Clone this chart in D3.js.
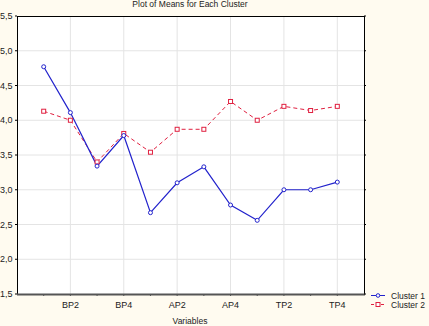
<!DOCTYPE html>
<html><head><meta charset="utf-8">
<script src="https://cdn.jsdelivr.net/npm/d3@7"></script>
<style>body{margin:0;background:#fffbf0;}svg{display:block;}</style>
</head><body>
<svg id="c" width="429" height="326"></svg>
<script>
const categories = ["BP1","BP2","BP3","BP4","AP1","AP2","AP3","AP4","TP1","TP2","TP3","TP4"];
const cluster1 = [4.77,4.11,3.34,3.78,2.67,3.10,3.33,2.78,2.56,3.00,3.00,3.11];
const cluster2 = [4.13,4.00,3.40,3.81,3.54,3.87,3.87,4.27,4.00,4.20,4.14,4.20];
const yTicks = [1.5,2.0,2.5,3.0,3.5,4.0,4.5,5.0,5.5];
const labeledCats = ["BP2","BP4","AP2","AP4","TP2","TP4"];
const seriesNames = ["Cluster 1","Cluster 2"];

const svg = d3.select("#c");
const L=17, T=16, R=364, B=294;
const x = d3.scalePoint().domain(categories).range([L,R]).padding(1);
const y = d3.scaleLinear().domain([1.5,5.5]).range([B,T]);
const fmt = d => d.toFixed(1).replace(".",",");
const font = "Arial, 'Liberation Sans', sans-serif";

svg.append("rect").attr("x",L).attr("y",T).attr("width",R-L).attr("height",B-T).attr("fill","#fff");

// grid
svg.append("g").selectAll("line").data(yTicks.slice(1,-1)).join("line")
  .attr("x1",L).attr("x2",R).attr("y1",d=>y(d)).attr("y2",d=>y(d))
  .attr("stroke","#e4e4e4").attr("stroke-width",1);
svg.append("g").selectAll("line").data(labeledCats).join("line")
  .attr("x1",d=>x(d)).attr("x2",d=>x(d)).attr("y1",T).attr("y2",B)
  .attr("stroke","#e4e4e4").attr("stroke-width",1);

// axes frame
svg.append("line").attr("x1",L).attr("x2",R).attr("y1",T+0.5).attr("y2",T+0.5).attr("stroke","#000");
svg.append("line").attr("x1",R+0.5).attr("x2",R+0.5).attr("y1",T).attr("y2",B).attr("stroke","#000");
svg.append("line").attr("x1",L+0.5).attr("x2",L+0.5).attr("y1",T).attr("y2",B).attr("stroke","#000");
svg.append("line").attr("x1",L).attr("x2",R+1).attr("y1",B+0.5).attr("y2",B+0.5).attr("stroke","#555").attr("stroke-width",2);

// ticks
svg.append("g").selectAll("line").data(categories).join("line")
  .attr("x1",d=>x(d)).attr("x2",d=>x(d)).attr("y1",B).attr("y2",B+2).attr("stroke","#555");
svg.append("g").selectAll("line").data(yTicks).join("line")
  .attr("x1",R).attr("x2",R+2).attr("y1",d=>y(d)).attr("y2",d=>y(d)).attr("stroke","#000");
svg.append("g").selectAll("line").data(yTicks).join("line")
  .attr("x1",L-2).attr("x2",L).attr("y1",d=>y(d)).attr("y2",d=>y(d)).attr("stroke","#000");

// y labels
svg.append("g").selectAll("text").data(yTicks).join("text")
  .attr("x",0).attr("y",d=>y(d)+3).attr("font-family",font).attr("font-size",9)
  .attr("fill","#222").text(fmt);
// x labels
svg.append("g").selectAll("text").data(labeledCats).join("text")
  .attr("x",d=>x(d)).attr("y",B+14).attr("text-anchor","middle").attr("font-family",font)
  .attr("font-size",9).attr("fill","#222").text(d=>d);

svg.append("text").attr("x",190).attr("y",7).attr("text-anchor","middle").attr("font-family",font)
  .attr("font-size",8.5).attr("fill","#222").text("Plot of Means for Each Cluster");
svg.append("text").attr("x",190).attr("y",324).attr("text-anchor","middle").attr("font-family",font)
  .attr("font-size",8.5).attr("fill","#222").text("Variables");

const line = d3.line().x((d,i)=>x(categories[i])).y(d=>y(d));
const c1 = "#2222cc", c2 = "#e02040";
svg.append("path").datum(cluster2).attr("d",line).attr("fill","none").attr("stroke",c2)
  .attr("stroke-width",1).attr("stroke-dasharray","4,3");
svg.append("path").datum(cluster1).attr("d",line).attr("fill","none").attr("stroke",c1).attr("stroke-width",1.2);
svg.append("g").selectAll("rect").data(cluster2).join("rect")
  .attr("x",(d,i)=>x(categories[i])-2).attr("y",d=>y(d)-2).attr("width",4).attr("height",4)
  .attr("fill","#fff").attr("stroke",c2).attr("stroke-width",1);
svg.append("g").selectAll("circle").data(cluster1).join("circle")
  .attr("cx",(d,i)=>x(categories[i])).attr("cy",d=>y(d)).attr("r",2)
  .attr("fill","#fff").attr("stroke",c1).attr("stroke-width",1);

// legend
const lg = svg.append("g");
[0,1].forEach(i=>{
  const ly = 295.5 + i*9;
  const col = i===0?c1:c2;
  lg.append("line").attr("x1",371).attr("x2",385).attr("y1",ly).attr("y2",ly).attr("stroke",col)
    .attr("stroke-dasharray",i===0?null:"3,2");
  if(i===0) lg.append("circle").attr("cx",378).attr("cy",ly).attr("r",1.8).attr("fill","#fff").attr("stroke",col);
  else lg.append("rect").attr("x",376).attr("y",ly-2).attr("width",4).attr("height",4).attr("fill","#fff").attr("stroke",col);
  lg.append("text").attr("x",391).attr("y",ly+3).attr("font-family",font).attr("font-size",8.5)
    .attr("fill","#222").text(seriesNames[i]);
});
</script>
</body></html>
